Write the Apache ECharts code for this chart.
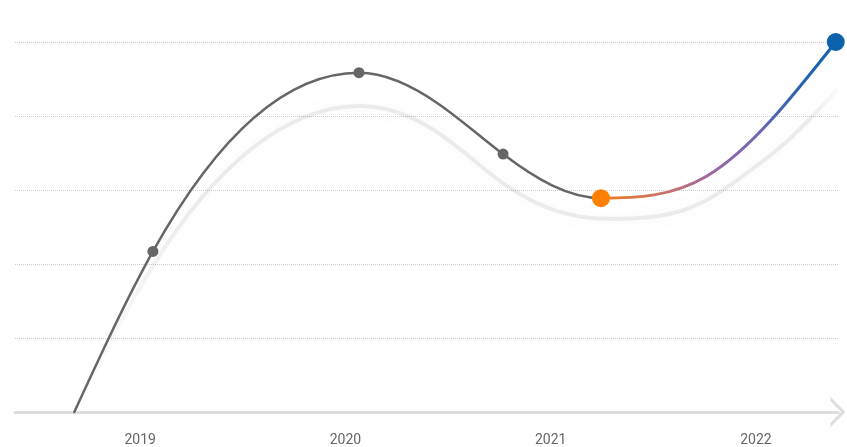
<!DOCTYPE html>
<html>
<head>
<meta charset="utf-8">
<script src="https://cdn.jsdelivr.net/npm/echarts@6/dist/echarts.min.js"></script>
<style>
html,body{margin:0;padding:0;background:#fff;}
#chart{width:847px;height:447px;}
</style>
</head>
<body>
<div id="chart"></div>
<script>
// ---- data ----
// curve points (year, value); some points carry a dot, others only shape the curve
const lineYears  = [2018.679, 2019.062, 2020.066, 2020.461, 2020.768, 2021.245, 2021.762, 2022.389];
const lineValues = [0,        43.4,     91.7,     83.0,     69.7,     57.8,     63.8,     100];
const greyDots   = [1, 2, 4];   // indices of the small grey dots
const turnPoint  = 5;           // index of the orange dot (start of the coloured part)
const endPoint   = 7;           // index of the blue dot

// soft shadow band under the curve
const shadowYears  = [2018.679, 2019.062, 2019.535, 2020.071, 2020.461, 2020.787, 2021.274, 2021.762, 2021.922, 2022.132, 2022.395];
const shadowValues = [0,        39.5,     70.8,     82.7,     75.1,     61.1,     52.2,     57.3,     63.2,     72.2,     87.0];

const tickYears  = [2019, 2020, 2021, 2022];
const tickLabels = ['2019', '2020', '2021', '2022'];
const yearRange  = [2018.39, 2022.40];
const valueRange = [0, 100];
const valueStep  = 20;

// ---- styles ----
const GREY = '#666666';
const ORANGE = '#ff7f00';
const BLUE = '#0a62aa';
const CHEVRON = 'path://M15 0 L30 15 L25.8 15 L15 4.2 L4.2 15 L0 15 Z';

// Smooth curve: C2 cubic spline in pixel space, flat at local extrema, natural at both ends.
function tangents(pts) {
  const n = pts.length, h = [], s = [];
  for (let i = 0; i < n - 1; i++) {
    h[i] = pts[i + 1][0] - pts[i][0];
    s[i] = (pts[i + 1][1] - pts[i][1]) / h[i];
  }
  const a = new Array(n).fill(0), b = new Array(n).fill(0), c = new Array(n).fill(0), d = new Array(n).fill(0);
  b[0] = 2; c[0] = 1; d[0] = 3 * s[0];
  a[n - 1] = 1; b[n - 1] = 2; d[n - 1] = 3 * s[n - 2];
  for (let i = 1; i < n - 1; i++) {
    if (s[i - 1] * s[i] <= 0) { b[i] = 1; continue; }
    a[i] = 1 / h[i - 1];
    c[i] = 1 / h[i];
    b[i] = 2 * (a[i] + c[i]);
    d[i] = 3 * (s[i - 1] / h[i - 1] + s[i] / h[i]);
  }
  // Thomas algorithm
  const cp = new Array(n), dp = new Array(n), m = new Array(n);
  cp[0] = c[0] / b[0]; dp[0] = d[0] / b[0];
  for (let i = 1; i < n; i++) {
    const den = b[i] - a[i] * cp[i - 1];
    cp[i] = c[i] / den;
    dp[i] = (d[i] - a[i] * dp[i - 1]) / den;
  }
  m[n - 1] = dp[n - 1];
  for (let i = n - 2; i >= 0; i--) m[i] = dp[i] - cp[i] * m[i + 1];
  return m;
}
function curvePath(pts, t, from, to) {
  let p = 'M' + pts[from][0] + ' ' + pts[from][1];
  for (let i = from; i < to; i++) {
    const dx = (pts[i + 1][0] - pts[i][0]) / 3;
    p += ' C' + (pts[i][0] + dx) + ' ' + (pts[i][1] + dx * t[i]) + ' ' +
         (pts[i + 1][0] - dx) + ' ' + (pts[i + 1][1] - dx * t[i + 1]) + ' ' +
         pts[i + 1][0] + ' ' + pts[i + 1][1];
  }
  return p;
}

const lineData = lineYears.map((x, i) => [x, lineValues[i]]);
const shadowData = shadowYears.map((x, i) => [x, shadowValues[i]]);
const dotData = greyDots.map(i => ({ value: [lineYears[i], lineValues[i]], symbolSize: 11, itemStyle: { color: GREY } }))
  .concat([
    { value: [lineYears[turnPoint], lineValues[turnPoint]], symbolSize: 18, itemStyle: { color: ORANGE } },
    { value: [lineYears[endPoint], lineValues[endPoint]], symbolSize: 18, itemStyle: { color: BLUE } }
  ]);

const chart = echarts.init(document.getElementById('chart'), null, { renderer: 'canvas' });
chart.setOption({
  animation: false,
  backgroundColor: '#ffffff',
  grid: { left: 15, right: 9, top: 42, bottom: 35, outerBoundsMode: 'none', containLabel: false },
  xAxis: {
    type: 'value',
    min: yearRange[0],
    max: yearRange[1],
    axisLine: {
      show: true,
      onZero: false,
      lineStyle: { color: '#dddddd', width: 3 },
      symbol: ['none', CHEVRON],
      symbolSize: [30, 15]
    },
    axisTick: { show: false },
    splitLine: { show: false },
    axisLabel: {
      customValues: tickYears,
      formatter: function (v) { const k = tickYears.indexOf(Math.round(v)); return k >= 0 ? tickLabels[k] : ''; },
      color: '#666666',
      fontSize: 14,
      fontFamily: 'Roboto',
      margin: 21
    }
  },
  yAxis: {
    type: 'value',
    min: valueRange[0],
    max: valueRange[1],
    interval: valueStep,
    axisLine: { show: false },
    axisTick: { show: false },
    axisLabel: { show: false },
    splitLine: { show: true, lineStyle: { type: 'dotted', color: '#cccccc', width: 1 } }
  },
  series: [
    {
      name: 'shadow',
      type: 'custom',
      coordinateSystem: 'cartesian2d',
      silent: true,
      z: 1,
      data: shadowData,
      renderItem: function (params, api) {
        if (params.dataIndex !== 0) return null;
        const pts = shadowYears.map((x, i) => api.coord([x, shadowValues[i]]));
        const t = tangents(pts);
        return {
          type: 'path',
          shape: { pathData: curvePath(pts, t, 0, pts.length - 1) },
          style: {
            fill: 'none',
            lineWidth: 4,
            lineCap: 'round',
            stroke: new echarts.graphic.LinearGradient(0, 0, 1, 0, [
              { offset: 0, color: 'rgba(0,0,0,0)' },
              { offset: 0.16, color: 'rgba(0,0,0,0.07)' },
              { offset: 0.96, color: 'rgba(0,0,0,0.07)' },
              { offset: 1, color: 'rgba(0,0,0,0.015)' }
            ]),
            shadowBlur: 16,
            shadowColor: 'rgba(0,0,0,0.55)'
          }
        };
      }
    },
    {
      name: 'curve',
      type: 'custom',
      coordinateSystem: 'cartesian2d',
      silent: true,
      z: 2,
      data: lineData,
      renderItem: function (params, api) {
        if (params.dataIndex !== 0) return null;
        const pts = lineYears.map((x, i) => api.coord([x, lineValues[i]]));
        const t = tangents(pts);
        return {
          type: 'group',
          children: [
            {
              type: 'path',
              shape: { pathData: curvePath(pts, t, 0, turnPoint) },
              style: { fill: 'none', stroke: GREY, lineWidth: 2.5, lineCap: 'round' }
            },
            {
              type: 'path',
              shape: { pathData: curvePath(pts, t, turnPoint, endPoint) },
              style: {
                fill: 'none',
                lineWidth: 3,
                lineCap: 'round',
                stroke: new echarts.graphic.LinearGradient(0, 0, 1, 0, [
                  { offset: 0, color: '#f47a1f' },
                  { offset: 0.28, color: '#c8706a' },
                  { offset: 0.5, color: '#9768a8' },
                  { offset: 0.68, color: '#6a66b2' },
                  { offset: 0.82, color: '#2f64ae' },
                  { offset: 1, color: BLUE }
                ])
              }
            }
          ]
        };
      }
    },
    {
      name: 'dots',
      type: 'scatter',
      silent: true,
      z: 3,
      symbol: 'circle',
      itemStyle: { opacity: 1 },
      data: dotData
    }
  ]
});
</script>
</body>
</html>
